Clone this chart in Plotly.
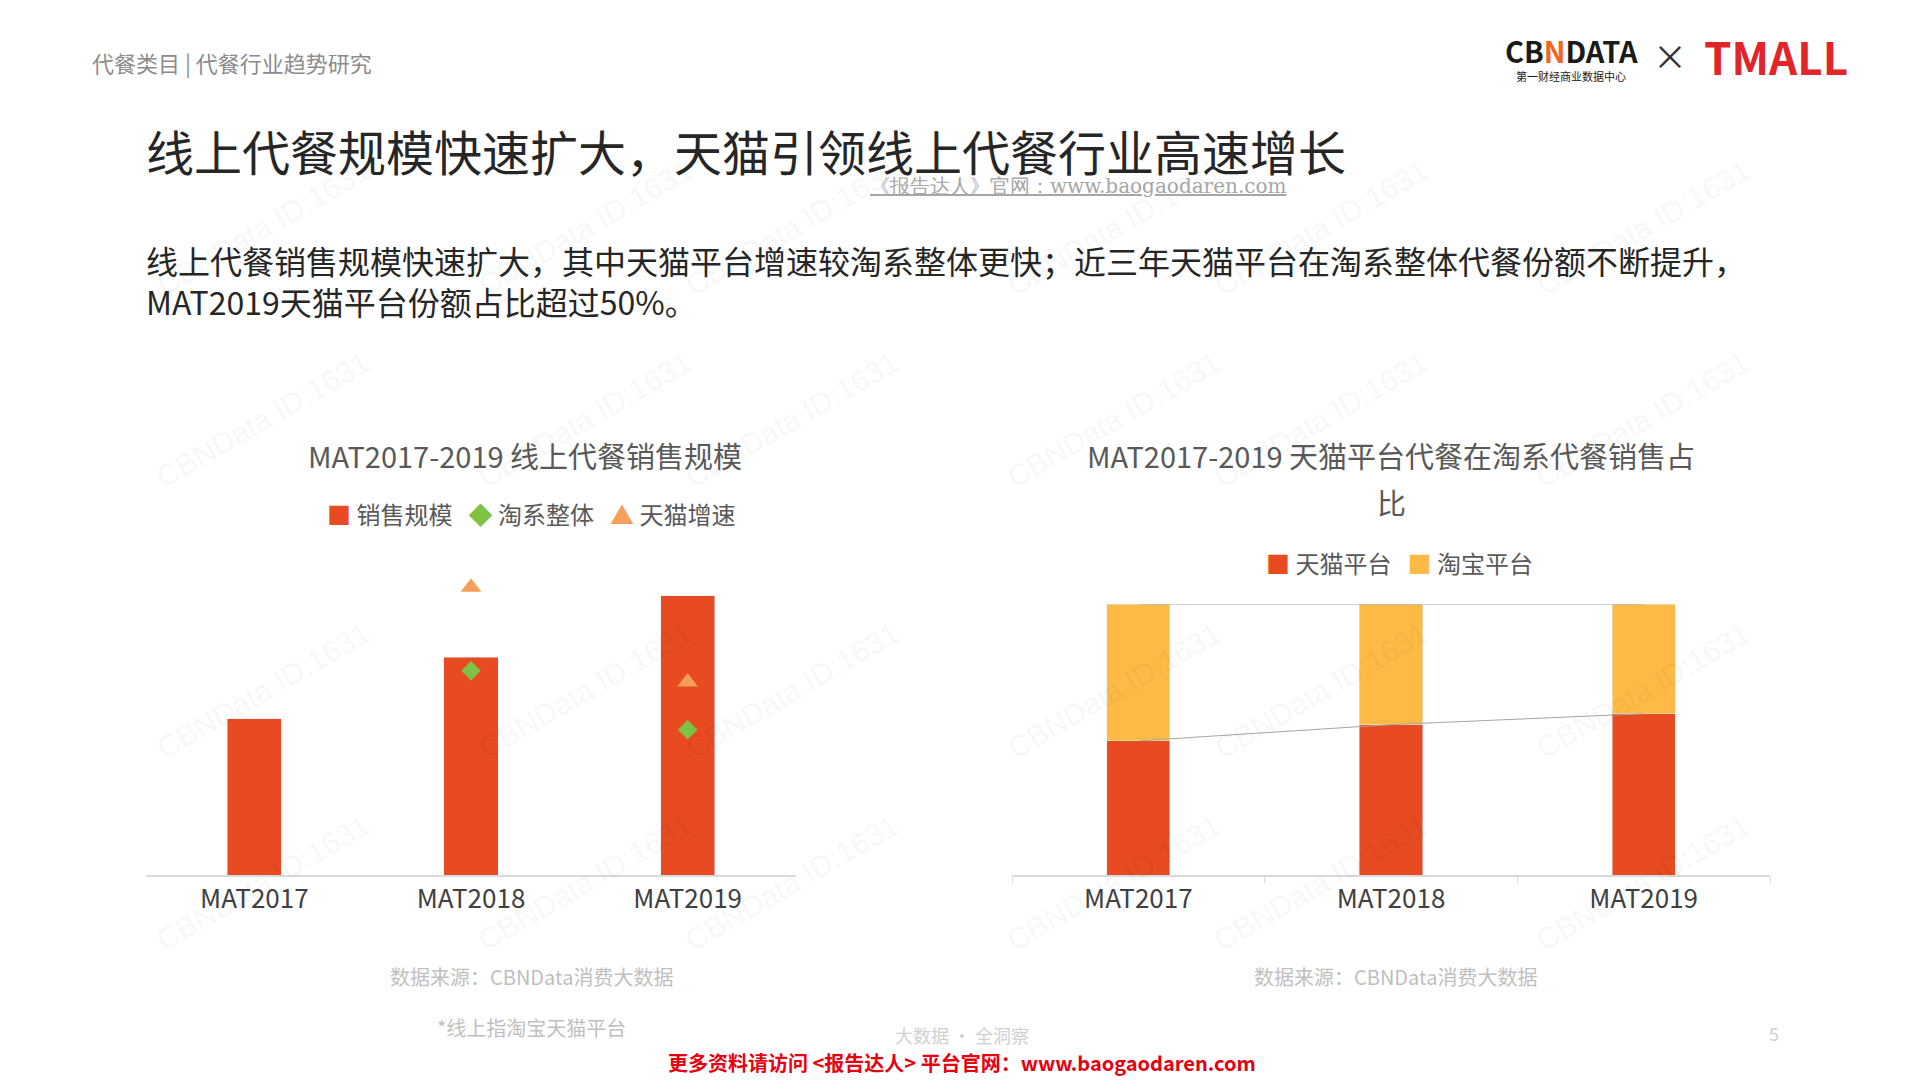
import plotly.graph_objects as go

cats = ["MAT2017", "MAT2018", "MAT2019"]
sales = [127, 177, 227]
taoxi = [None, 166, 118]
tmall_growth = [None, 234, 157]
tmall_share = [0.495, 0.555, 0.595]
taobao_share = [1 - v for v in tmall_share]

RED = "#E84A22"; YEL = "#FDBA45"; GRN = "#7DC242"; ORG = "#F5A05A"
W, H = 1920, 1080
F = "Noto Sans CJK SC"

fig = go.Figure()
fig.add_bar(x=cats, y=sales, marker_color=RED, width=0.25, xaxis="x", yaxis="y")
fig.add_scatter(x=cats, y=taoxi, mode="markers", marker=dict(symbol="diamond", color=GRN, size=15), xaxis="x", yaxis="y")
fig.add_scatter(x=cats, y=tmall_growth, mode="markers", marker=dict(symbol="triangle-up", color=ORG, size=18), xaxis="x", yaxis="y")

fig.add_bar(x=cats, y=tmall_share, marker_color=RED, width=0.25, xaxis="x2", yaxis="y2")
fig.add_bar(x=cats, y=taobao_share, marker_color=YEL, width=0.25, xaxis="x2", yaxis="y2")
fig.add_scatter(x=cats, y=tmall_share, mode="lines", line=dict(color="#A6A6A6", width=1), xaxis="x2", yaxis="y2")
fig.add_scatter(x=cats, y=[1, 1, 1], mode="lines", line=dict(color="#A6A6A6", width=1), xaxis="x2", yaxis="y2")

def px(x): return x / W
def py(y): return 1 - y / H

ax = dict(showgrid=False, zeroline=False, tickfont=dict(size=26, color="#404040", family=F),
          showline=True, linecolor="#D9D9D9", linewidth=1.5)
fig.update_layout(
    width=W, height=H, margin=dict(l=0, r=0, t=0, b=0), barmode="stack",
    paper_bgcolor="white", plot_bgcolor="white", showlegend=False, font=dict(family=F),
    xaxis=dict(domain=[px(146), px(796)], anchor="y", ticklen=0, **ax),
    yaxis=dict(domain=[py(875), py(567.5)], range=[0, 250], visible=False),
    xaxis2=dict(domain=[px(1012), px(1770)], anchor="y2", ticks="outside", tickson="boundaries",
                tickcolor="#D9D9D9", ticklen=6, **ax),
    yaxis2=dict(domain=[py(875), py(604)], range=[0, 1], visible=False),
)

def ann(x, y, text, size, color="#404040", xanchor="left", **kw):
    fig.add_annotation(x=px(x), y=py(y), xref="paper", yref="paper", text=text, showarrow=False,
                       xanchor=xanchor, yanchor="middle", font=dict(size=size, color=color, family=kw.pop("family", F)), **kw)

for gx in [148, 470, 792, 1114, 1436, 1758]:
    for gy in [150, 420, 690, 960]:
        fig.add_annotation(x=px(gx), y=py(gy), xref="paper", yref="paper", text="CBNData ID:1631",
                           showarrow=False, textangle=-30, font=dict(size=30, color="rgba(0,0,0,0.05)", family="Liberation Sans"))

ann(90, 62, "代餐类目 | 代餐行业趋势研究", 22, "#8C8C8C")
ann(144, 150, "线上代餐规模快速扩大，天猫引领线上代餐行业高速增长", 48, "#262626")
ann(1078, 186, "<u>《报告达人》官网：www.baogaodaren.com</u>", 20, "#A6A6A6", xanchor="center", family="DejaVu Serif")
ann(144, 260, "线上代餐销售规模快速扩大，其中天猫平台增速较淘系整体更快；近三年天猫平台在淘系整体代餐份额不断提升，", 32, "#262626")
ann(144, 301, "MAT2019天猫平台份额占比超过50%。", 32, "#262626")

ann(525, 455, "MAT2017-2019 线上代餐销售规模", 29, "#595959", xanchor="center")
ann(325, 514, f"<span style='color:{RED}'>■</span> 销售规模   <span style='color:{GRN}'>◆</span> 淘系整体   <span style='color:{ORG}'>▲</span> 天猫增速", 24, "#595959")
ann(1391, 455, "MAT2017-2019 天猫平台代餐在淘系代餐销售占", 29, "#595959", xanchor="center")
ann(1391, 502, "比", 29, "#595959", xanchor="center")
ann(1264, 562, f"<span style='color:{RED}'>■</span> 天猫平台   <span style='color:{YEL}'>■</span> 淘宝平台", 24, "#595959")

ann(531, 976, "数据来源：CBNData消费大数据", 20, "#BFBFBF", xanchor="center")
ann(1395, 976, "数据来源：CBNData消费大数据", 20, "#BFBFBF", xanchor="center")
ann(531, 1027, "*线上指淘宝天猫平台", 20, "#BFBFBF", xanchor="center")
ann(962, 1035, "大数据 · 全洞察", 18, "#D0D0D0", xanchor="center")
ann(1774, 1033, "5", 18, "#D0D0D0", xanchor="center")
ann(962, 1062, "<b>更多资料请访问 &lt;报告达人&gt; 平台官网：www.baogaodaren.com</b>", 20, "#E60012", xanchor="center")

ann(1571, 50, "<b>CB<span style='color:#F26522'>N</span>DATA</b>", 29, "#1A1A1A", xanchor="center")
ann(1571, 76, "第一财经商业数据中心", 11, "#1A1A1A", xanchor="center")
ann(1670, 56, "×", 34, "#333333", xanchor="center")
ann(1776, 56, "<b>TMALL</b>", 44, "#E0262B", xanchor="center")

fig.write_html("out.html", config={"displayModeBar": False},
               post_script="document.body.style.margin='0';document.body.style.overflow='hidden';")
